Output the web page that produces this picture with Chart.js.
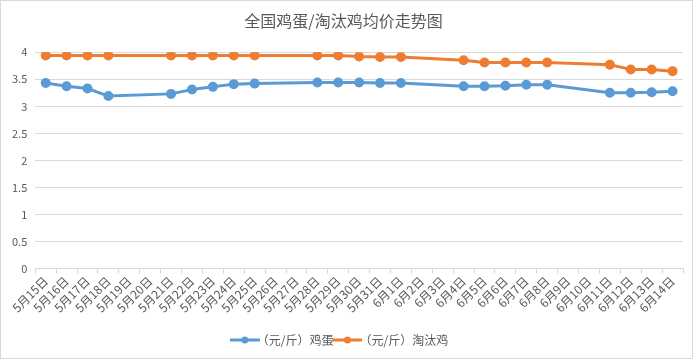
<!DOCTYPE html>
<html>
<head>
<meta charset="utf-8">
<script src="https://cdn.jsdelivr.net/npm/chart.js@4"></script>
<style>
  body { margin: 0; background: #fff; }
  #wrap { width: 697px; height: 360px; }
</style>
</head>
<body>
<div id="wrap"><canvas id="chartEgg"></canvas></div>
<script>
// 日期（周末无数据）
const days = [
  "5月15日", "5月16日", "5月17日", "5月18日", "5月19日", "5月20日", "5月21日",
  "5月22日", "5月23日", "5月24日", "5月25日", "5月26日", "5月27日", "5月28日",
  "5月29日", "5月30日", "5月31日", "6月1日", "6月2日", "6月3日", "6月4日",
  "6月5日", "6月6日", "6月7日", "6月8日", "6月9日", "6月10日", "6月11日",
  "6月12日", "6月13日", "6月14日"
];
const eggPrice = [
  3.43, 3.37, 3.33, 3.19, null, null, 3.23,
  3.31, 3.36, 3.41, 3.42, null, null, 3.44,
  3.44, 3.44, 3.43, 3.43, null, null, 3.37,
  3.37, 3.38, 3.40, 3.40, null, null, 3.25,
  3.25, 3.26, 3.28
];
const henPrice = [
  3.94, 3.94, 3.94, 3.94, null, null, 3.94,
  3.94, 3.94, 3.94, 3.94, null, null, 3.94,
  3.94, 3.92, 3.91, 3.91, null, null, 3.85,
  3.81, 3.81, 3.81, 3.81, null, null, 3.77,
  3.68, 3.68, 3.65
];
const yTicks = [0, 0.5, 1, 1.5, 2, 2.5, 3, 3.5, 4];

const grey = "#595959";
const font = "'Noto Sans CJK SC', 'Noto Sans', sans-serif";

// 图例用的带圆点的线段
function legendMark(color) {
  const c = document.createElement("canvas");
  c.width = 30; c.height = 10;
  const g = c.getContext("2d");
  g.strokeStyle = color; g.lineWidth = 3;
  g.beginPath(); g.moveTo(0, 5); g.lineTo(30, 5); g.stroke();
  g.fillStyle = color;
  g.beginPath(); g.arc(15, 5, 3.5, 0, Math.PI * 2); g.fill();
  return c;
}

const frame = {
  id: "frame",
  beforeDraw(chart) {
    const ctx = chart.ctx;
    ctx.save();
    ctx.fillStyle = "#fff";
    ctx.fillRect(0, 0, chart.width, chart.height);
    ctx.strokeStyle = "#d9d9d9";
    ctx.lineWidth = 1;
    ctx.strokeRect(0.5, 0.5, 692, 358);
    ctx.restore();
  }
};

new Chart(document.getElementById("chartEgg"), {
  type: "line",
  data: {
    labels: days,
    datasets: [{
      label: "（元/斤）鸡蛋",
      data: eggPrice,
      borderColor: "#5B9BD5",
      backgroundColor: "#5B9BD5",
      borderWidth: 3,
      pointRadius: 3.5,
      pointStyle: "circle",
      spanGaps: true
    }, {
      label: "（元/斤）淘汰鸡",
      data: henPrice,
      borderColor: "#ED7D31",
      backgroundColor: "#ED7D31",
      borderWidth: 3,
      pointRadius: 3.5,
      pointStyle: "circle",
      spanGaps: true
    }]
  },
  options: {
    responsive: true,
    maintainAspectRatio: false,
    animation: false,
    layout: { padding: { left: 4, right: 14, top: 9, bottom: 4 } },
    plugins: {
      title: {
        display: true,
        text: "全国鸡蛋/淘汰鸡均价走势图",
        color: grey,
        font: { family: font, size: 16, weight: "normal" },
        padding: { top: 2, bottom: 22 }
      },
      legend: {
        position: "bottom",
        labels: {
          color: grey,
          font: { family: font, size: 12 },
          padding: 8,
          generateLabels(chart) {
            return chart.data.datasets.map((ds, i) => ({
              text: ds.label,
              fontColor: grey,
              pointStyle: legendMark(ds.borderColor),
              usePointStyle: true,
              datasetIndex: i,
              hidden: false,
              lineWidth: 0
            }));
          },
          usePointStyle: true
        }
      },
      tooltip: { enabled: false }
    },
    scales: {
      x: {
        offset: true,
        grid: { offset: true, drawOnChartArea: false, color: "#d9d9d9", tickLength: 5 },
        border: { color: "#d9d9d9" },
        afterFit(scale) { scale.height += 11; },
        ticks: {
          color: grey,
          font: { family: font, size: 12 },
          minRotation: 45,
          maxRotation: 45,
          autoSkip: false,
          padding: 0
        }
      },
      y: {
        min: 0,
        max: 4,
        afterBuildTicks(axis) { axis.ticks = yTicks.map(v => ({ value: v })); },
        grid: { color: "#d9d9d9", drawTicks: false },
        border: { display: false },
        ticks: {
          color: grey,
          font: { family: font, size: 11 },
          padding: 8,
          callback: v => String(v)
        }
      }
    }
  },
  plugins: [frame]
});
</script>
</body>
</html>
